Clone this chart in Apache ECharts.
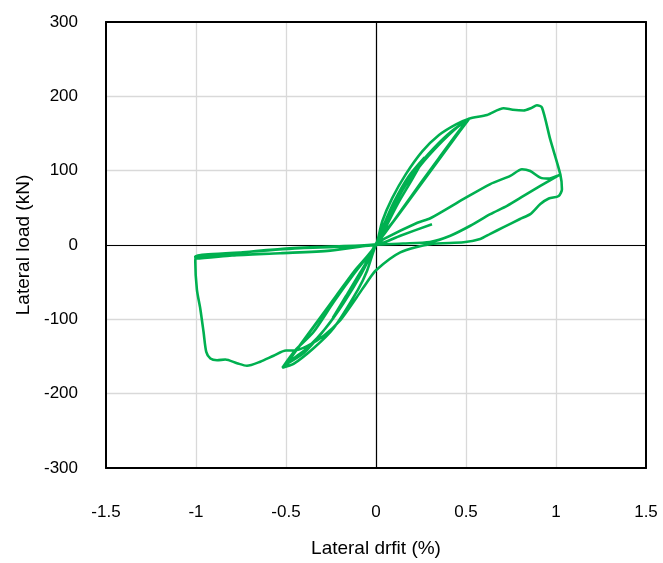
<!DOCTYPE html>
<html>
<head>
<meta charset="utf-8">
<script src="https://cdn.jsdelivr.net/npm/echarts@6/dist/echarts.min.js"></script>
<style>
html,body{margin:0;padding:0;background:#fff;}
#chart{width:663px;height:563px;}
</style>
</head>
<body>
<div id="chart"></div>
<script>
// Lateral drift (%) values along the loading path
const drift = [
  // small cycle
  0, 0.04, 0.10, 0.18, 0.27, 0.20, 0.12, 0.05, 0, -0.06, -0.14, -0.24, -0.17, -0.09, 0,
  // 0.5 cycle 1 (envelope)
  0.035, 0.09, 0.165, 0.257, 0.35, 0.442, 0.517, 0.45, 0.35, 0.25, 0.15, 0.05, 0,
  -0.05, -0.10, -0.236, -0.347, -0.458, -0.52, -0.45, -0.347, -0.236, -0.12, 0,
  // 0.5 cycle 2
  0.05, 0.15, 0.25, 0.35, 0.45, 0.51, 0.40, 0.30, 0.20, 0.10, 0,
  -0.10, -0.20, -0.30, -0.40, -0.51, -0.40, -0.30, -0.20, -0.10, 0,
  // 0.5 cycle 3
  0.04, 0.12, 0.22, 0.32, 0.42, 0.515, 0.42, 0.32, 0.22, 0.12, 0.03, 0,
  -0.08, -0.18, -0.28, -0.38, -0.47, -0.505, -0.42, -0.32, -0.22, -0.12, 0,
  // 1.0 cycle 1
  0.035, 0.09, 0.165, 0.257, 0.35, 0.442, 0.517, 0.617, 0.709, 0.76, 0.82, 0.86, 0.894, 0.922, 0.968, 1.024, 1.033, 1.015,
  0.96, 0.913, 0.857, 0.80, 0.709, 0.635, 0.579, 0.487, 0.30, 0.135, 0,
  -0.05, -0.106, -0.198, -0.29, -0.383, -0.46, -0.50, -0.569, -0.643, -0.717, -0.772, -0.837, -0.883, -0.92, -0.943, -0.958, -0.976, -0.995, -1.004, -1.0,
  -0.75, -0.532, -0.25, 0,
  // 1.0 cycle 2
  0.042, 0.23, 0.302, 0.487, 0.635, 0.746, 0.811, 0.857, 0.913, 0.959, 1.014, 1.024,
  0.913, 0.82, 0.728, 0.635, 0.524, 0.413, 0.30, 0.15, 0,
  -0.05, -0.254, -0.532, -0.80, -1.0, -1.004,
  -0.70, -0.40, 0,
  // final
  0.135, 0.311
];
// Lateral load (kN) values along the loading path
const load = [
  0, 25, 58, 92, 118, 88, 55, 22, 0, -28, -62, -98, -70, -38, 0,
  32, 63, 95, 126, 148, 162, 170, 150, 117, 84, 50, 16, 0,
  -35, -60, -112, -139, -160, -165, -142, -117, -77, -38, 0,
  28, 75, 108, 135, 158, 168, 133, 100, 66, 33, 2,
  -45, -85, -118, -145, -162, -128, -95, -62, -30, 0,
  24, 65, 102, 130, 153, 169, 138, 105, 72, 39, 10, 0,
  -38, -78, -112, -138, -155, -163, -134, -101, -68, -35, 0,
  32, 63, 95, 126, 148, 162, 170, 175, 184, 182, 181, 184, 188, 185, 142, 95, 75, 66,
  62.5, 55, 41.5, 35, 24, 15, 8, 3.6, 1, -10, -34,
  -50, -70, -101, -122, -136, -142, -142, -149, -157, -162.5, -159, -154, -155, -152.7, -143.7, -117, -86, -60, -22, -16,
  -10, -5.4, -2, 1,
  8, 30, 36, 62, 82, 93, 102, 99.5, 90.6, 89.3, 93.7, 95,
  79.5, 66, 52.7, 41.5, 25.9, 12.5, 4, 2, 0.5,
  -1, -7.6, -11, -14, -18, -15,
  -9, -4, 0,
  12.5, 28
];
const xTicks = [-1.5, -1, -0.5, 0, 0.5, 1, 1.5];
const yTicks = [-300, -200, -100, 0, 100, 200, 300];

const pts = drift.map((d, i) => [d, load[i]]);

const chart = echarts.init(document.getElementById('chart'));
const font = 'Arial, "Liberation Sans", sans-serif';
chart.setOption({
  animation: false,
  backgroundColor: '#fff',
  grid: {left: 106, right: 17, top: 22, bottom: 93, show: false},
  xAxis: [{
    type: 'value', min: xTicks[0], max: xTicks[xTicks.length - 1], interval: 0.5,
    name: 'Lateral drfit (%)', nameLocation: 'middle', nameGap: 71,
    nameTextStyle: {fontFamily: font, fontSize: 19, color: '#000'},
    axisLine: {show: true, onZero: false, lineStyle: {color: '#000', width: 2}},
    axisTick: {show: false},
    axisLabel: {margin: 36, fontFamily: font, fontSize: 17, color: '#000'},
    splitLine: {show: true, showMinLine: false, showMaxLine: false, lineStyle: {color: '#d9d9d9', width: 1.3}}
  }, {
    type: 'value', position: 'top', min: xTicks[0], max: xTicks[xTicks.length - 1], interval: 0.5,
    axisLine: {show: true, onZero: false, lineStyle: {color: '#000', width: 2}},
    axisTick: {show: false}, axisLabel: {show: false}, splitLine: {show: false}
  }],
  yAxis: [{
    type: 'value', min: yTicks[0], max: yTicks[yTicks.length - 1], interval: 100,
    name: 'Lateral load (kN)', nameLocation: 'middle', nameGap: 64,
    nameTextStyle: {fontFamily: font, fontSize: 19, color: '#000'},
    axisLine: {show: true, onZero: false, lineStyle: {color: '#000', width: 2}},
    axisTick: {show: false},
    axisLabel: {margin: 28, fontFamily: font, fontSize: 17, color: '#000'},
    splitLine: {show: true, showMinLine: false, showMaxLine: false, lineStyle: {color: '#d9d9d9', width: 1.3}}
  }, {
    type: 'value', position: 'right', min: yTicks[0], max: yTicks[yTicks.length - 1], interval: 100,
    axisLine: {show: true, onZero: false, lineStyle: {color: '#000', width: 2}},
    axisTick: {show: false}, axisLabel: {show: false}, splitLine: {show: false}
  }],
  series: [{
    type: 'line',
    xAxisIndex: 0, yAxisIndex: 0,
    data: pts,
    showSymbol: false,
    smooth: 0.25,
    lineStyle: {color: '#00B050', width: 2.6},
    z: 3,
    markLine: {
      silent: true, symbol: 'none', label: {show: false},
      lineStyle: {color: '#000', width: 1.2, type: 'solid'},
      data: [{xAxis: 0}, {yAxis: 0}],
      z: 2
    }
  }]
});
</script>
</body>
</html>
